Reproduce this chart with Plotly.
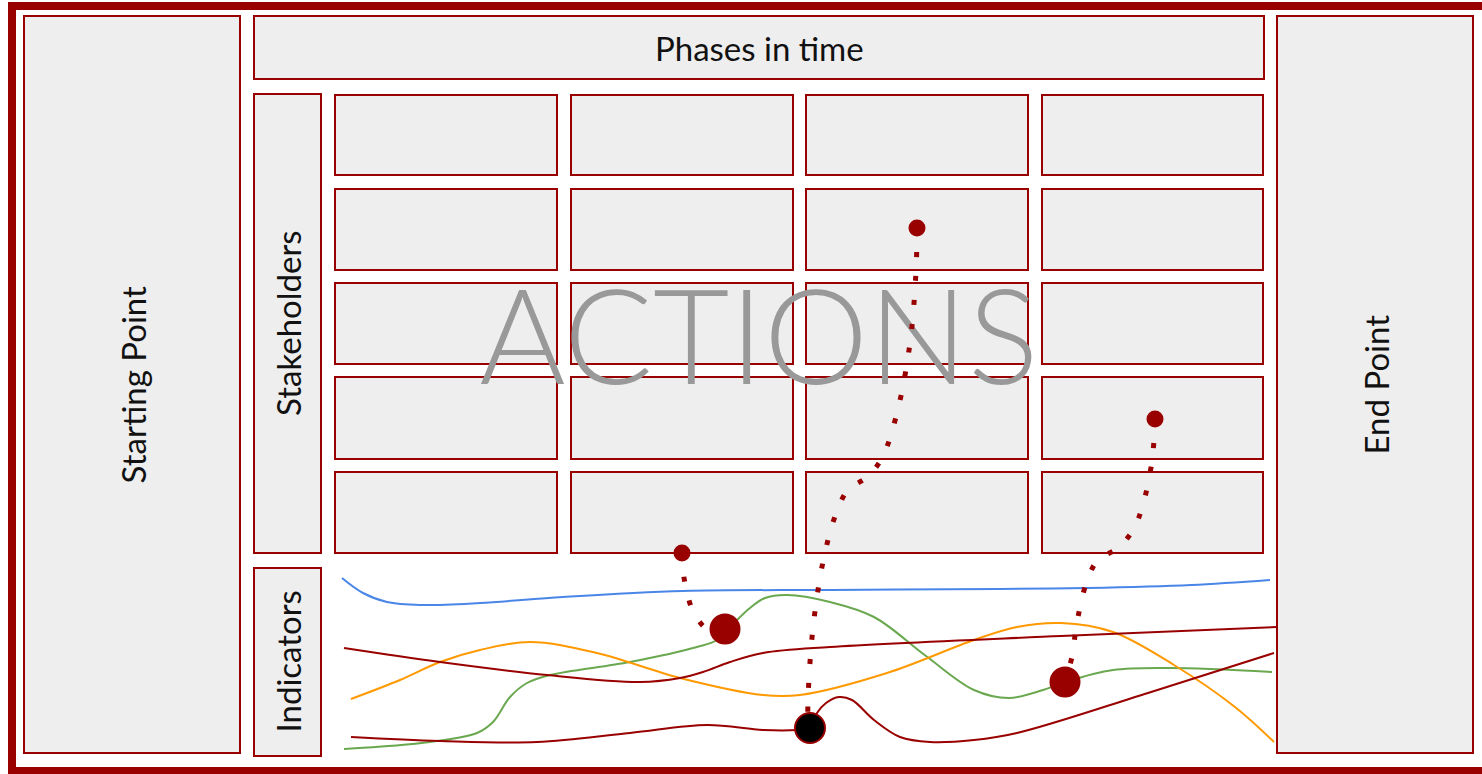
import plotly.graph_objects as go

# ---------------- data ----------------
DARK_RED = "#990000"
BOX_FILL = "#eeeeee"

# frame and side boxes (pixel space of the slide)
frame = [12, 6, 1492, 771]
side_boxes = {
    "Starting Point": [24, 16, 240, 753],
    "End Point": [1277, 16, 1473, 753],
}
header_box = [254, 16, 1264, 79]
stake_box = [254, 94, 321, 553]
indic_box = [254, 568, 321, 756]

col_left = [335, 571, 806, 1042]
col_right = [557, 793, 1028, 1263]
row_top = [95, 189, 283, 377, 472]
row_bottom = [175, 270, 364, 459, 553]

# indicator curves
blue_x = [342, 363, 387, 420, 480, 563, 683, 830, 1000, 1087, 1191, 1270]
blue_y = [578, 593, 602, 605, 603, 597, 591, 590, 589, 588, 585, 580]

green_x = [344, 430, 477, 493, 510, 527, 550, 630, 697, 717, 735, 750, 765, 787, 830,
           874, 926, 974, 1009, 1043, 1065, 1113, 1170, 1272]
green_y = [749, 742, 733, 722, 697, 683, 675, 662, 647, 640, 622, 608, 598, 595, 602,
           617, 656, 690, 698, 690, 682, 670, 668, 672]

orange_x = [351, 400, 440, 480, 530, 597, 680, 763, 800, 887, 974, 1017, 1061, 1113,
            1174, 1235, 1274]
orange_y = [699, 680, 662, 650, 642, 653, 678, 695, 695, 673, 640, 627, 623, 632,
            665, 707, 742]

red1_x = [344, 440, 547, 640, 680, 703, 730, 763, 830, 1061, 1277]
red1_y = [648, 662, 675, 682, 678, 672, 662, 653, 647, 636, 627]

red2_x = [351, 440, 537, 630, 707, 763, 797, 810, 817, 826, 839, 852, 874, 900, 930,
          974, 1017, 1148, 1274]
red2_y = [737, 741, 742, 733, 725, 730, 730, 728, 713, 703, 697, 700, 720, 737, 742,
          740, 733, 693, 653]

# dotted action paths
d1_x = [682, 683, 686, 693, 707, 722]
d1_y = [553, 570, 588, 611, 629, 630]
d2_x = [917, 916, 910, 897, 882, 867, 848, 837, 824, 813, 808, 808]
d2_y = [228, 271, 343, 413, 458, 477, 490, 511, 557, 628, 700, 728]
d3_x = [1155, 1152, 1142, 1133, 1118, 1098, 1087, 1076, 1073, 1066]
d3_y = [419, 461, 508, 530, 548, 560, 581, 628, 652, 680]

# markers
small_dot_x = [682, 917, 1155]
small_dot_y = [553, 228, 419]
big_dot_x = [725, 1065]
big_dot_y = [629, 682]
black_dot_x = [810]
black_dot_y = [728]

actions_x = [759]
actions_y = [351]

FONT = "Lato"

# ---------------- figure ----------------
fig = go.Figure()
shapes = []


def box(b, lw=2):
    return dict(type="rect", xref="x", yref="y", x0=b[0], y0=b[1], x1=b[2], y1=b[3],
                line=dict(color=DARK_RED, width=lw), fillcolor=BOX_FILL, layer="below")


shapes.append(dict(type="rect", xref="x", yref="y", x0=frame[0], y0=frame[1],
                   x1=frame[2], y1=frame[3], line=dict(color=DARK_RED, width=8),
                   fillcolor="white", layer="below"))
for b in side_boxes.values():
    shapes.append(box(b))
shapes.append(box(header_box))
shapes.append(box(stake_box))
shapes.append(box(indic_box))
for l, r in zip(col_left, col_right):
    for t, bt in zip(row_top, row_bottom):
        shapes.append(box([l, t, r, bt]))

# ACTIONS text (as trace so dotted paths draw above it)
fig.add_trace(go.Scatter(x=actions_x, y=actions_y, mode="text", text=["ACTIONS"],
                         textposition="middle center",
                         textfont=dict(family=FONT, size=132, color="#999999", weight=300),
                         hoverinfo="skip", showlegend=False))

for xs, ys, c in [(blue_x, blue_y, "#4a86e8"), (green_x, green_y, "#6aa84f"),
                  (orange_x, orange_y, "#ff9900"), (red1_x, red1_y, DARK_RED),
                  (red2_x, red2_y, DARK_RED)]:
    fig.add_trace(go.Scatter(x=xs, y=ys, mode="lines",
                             line=dict(color=c, width=2, shape="spline", smoothing=1),
                             hoverinfo="skip", showlegend=False))

for xs, ys in [(d1_x, d1_y), (d2_x, d2_y), (d3_x, d3_y)]:
    fig.add_trace(go.Scatter(x=xs, y=ys, mode="lines",
                             line=dict(color=DARK_RED, width=5, shape="spline",
                                       dash="5px,19px"),
                             hoverinfo="skip", showlegend=False))

fig.add_trace(go.Scatter(x=small_dot_x, y=small_dot_y, mode="markers",
                         marker=dict(size=17, color=DARK_RED, line=dict(width=0)),
                         hoverinfo="skip", showlegend=False))
fig.add_trace(go.Scatter(x=big_dot_x, y=big_dot_y, mode="markers",
                         marker=dict(size=31, color=DARK_RED, line=dict(width=0)),
                         hoverinfo="skip", showlegend=False))
fig.add_trace(go.Scatter(x=black_dot_x, y=black_dot_y, mode="markers",
                         marker=dict(size=30, color="black",
                                     line=dict(width=2, color=DARK_RED)),
                         hoverinfo="skip", showlegend=False))

annotations = []
lab_font = dict(family=FONT, size=33, color="#111111")
annotations.append(dict(x=(header_box[0] + header_box[2]) / 2,
                        y=(header_box[1] + header_box[3]) / 2,
                        xref="x", yref="y", text="Phases in time", showarrow=False,
                        font=lab_font, xanchor="center", yanchor="middle"))
for name, b in side_boxes.items():
    annotations.append(dict(x=(b[0] + b[2]) / 2, y=(b[1] + b[3]) / 2, xref="x", yref="y",
                            text=name, showarrow=False, textangle=-90, font=lab_font,
                            xanchor="center", yanchor="middle"))
for name, b in [("Stakeholders", stake_box), ("Indicators", indic_box)]:
    annotations.append(dict(x=(b[0] + b[2]) / 2, y=(b[1] + b[3]) / 2, xref="x", yref="y",
                            text=name, showarrow=False, textangle=-90, font=lab_font,
                            xanchor="center", yanchor="middle"))

fig.update_layout(
    width=1482, height=774,
    margin=dict(l=0, r=0, t=0, b=0),
    paper_bgcolor="white", plot_bgcolor="white",
    shapes=shapes, annotations=annotations,
    xaxis=dict(range=[0, 1482], visible=False, fixedrange=True),
    yaxis=dict(range=[774, 0], visible=False, fixedrange=True),
    showlegend=False,
)

fig.write_html("out.html", config={"displayModeBar": False},
               post_script="document.body.style.margin='0';")
